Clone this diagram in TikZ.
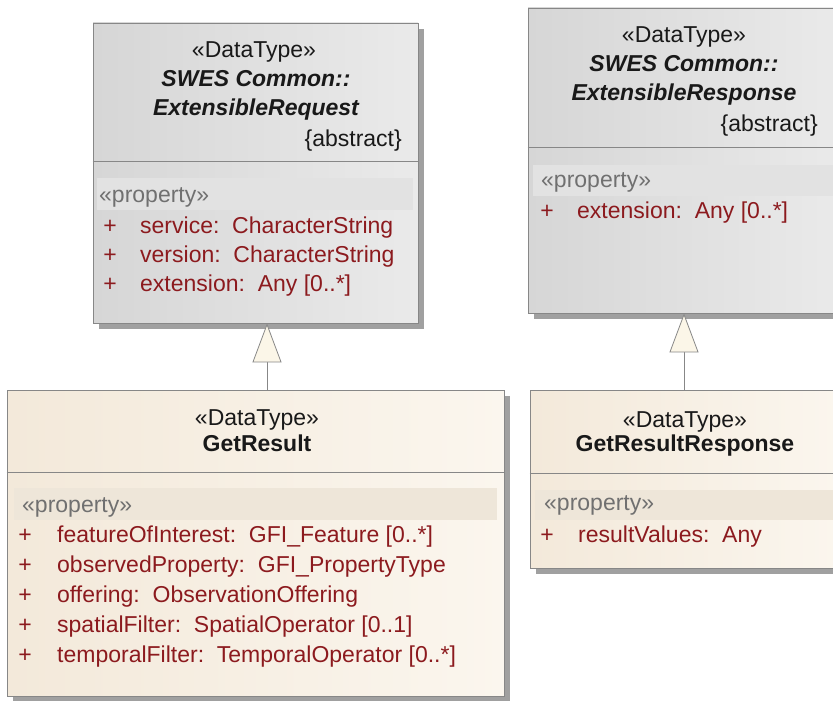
\documentclass[tikz,border=0pt]{standalone}
\usepackage{fontspec}
\setmainfont{Liberation Sans}
\usetikzlibrary{arrows.meta,shadows}

\definecolor{umlred}{RGB}{140,26,30}
\definecolor{stereogray}{RGB}{112,112,112}
\definecolor{boxline}{RGB}{135,135,135}
\definecolor{shadowgray}{RGB}{160,160,160}
\definecolor{grayleft}{RGB}{214,214,214}
\definecolor{grayright}{RGB}{234,234,234}
\definecolor{grayband}{RGB}{226,226,226}
\definecolor{creamleft}{RGB}{243,233,218}
\definecolor{creamright}{RGB}{251,246,238}
\definecolor{creamband}{RGB}{238,230,217}
\definecolor{tricream}{RGB}{251,246,232}

\begin{document}
\begin{tikzpicture}[x=1pt, y=-1pt,
  every node/.style={font=\fontsize{23}{28}\selectfont, inner sep=0pt, text=black!90},
  classbox/.style={draw=boxline, line width=0.8pt,
    drop shadow={shadow xshift=6pt, shadow yshift=-6pt, fill=shadowgray, opacity=1}},
  graybox/.style={classbox, left color=grayleft, right color=grayright},
  creambox/.style={classbox, left color=creamleft, right color=creamright},
  divider/.style={draw=boxline, line width=0.8pt},
  stereo/.style={anchor=base},
  propstereo/.style={anchor=base west, text=stereogray},
  plus/.style={anchor=base, text=umlred},
  attr/.style={anchor=base west, text=umlred},
  genarrow/.style={draw=boxline, line width=0.8pt, -{Triangle[width=29pt, length=39pt, fill=tricream]}}]

\useasboundingbox (0,0) rectangle (833,701);
\clip (0,0) rectangle (833,701);

% the four class boxes
\node[graybox, minimum width=325pt, minimum height=300pt] (extreq) at (255.5,173) {};
\node[graybox, minimum width=312pt, minimum height=305pt] (extres) at (684,160.5) {};
\node[creambox, minimum width=497pt, minimum height=306pt] (getres) at (255.5,543) {};
\node[creambox, minimum width=308pt, minimum height=178pt] (getresp) at (684,479) {};

% compartment lines and property bands
\draw[divider] (extreq.west |- 0,161) -- (extreq.east |- 0,161);
\draw[divider] (extres.west |- 0,147) -- (extres.east |- 0,147);
\draw[divider] (getres.west |- 0,472) -- (getres.east |- 0,472);
\draw[divider] (getresp.west |- 0,473) -- (getresp.east |- 0,473);
\fill[grayband] (97,178) rectangle (413,210);
\fill[grayband] (533,165) rectangle (834,196);
\fill[creamband] (14,488) rectangle (497,520);
\fill[creamband] (535,490) rectangle (836,520);

% ExtensibleRequest
\node[stereo] (extreq-st) at (254,58) {«DataType»};
\node[stereo, font=\fontsize{23}{28}\selectfont\bfseries\itshape] (extreq-n1) at (256,86) {SWES Common::};
\node[stereo, font=\fontsize{23}{28}\selectfont\bfseries\itshape] (extreq-n2) at (256,115) {ExtensibleRequest};
\node[anchor=base east] (extreq-abs) at (402,146) {\{abstract\}};
\node[propstereo] (extreq-pr) at (99,202) {«property»};
\foreach \attr [count=\i] in {{service:\ \ CharacterString}, {version:\ \ CharacterString}, {extension:\ \ Any [0..*]}} {
  \node[plus] (extreq-p\i) at (110,{204+29*\i}) {+};
  \node[attr] (extreq-a\i) at (140,{204+29*\i}) {\attr};
}

% ExtensibleResponse
\node[stereo] (extres-st) at (684,43) {«DataType»};
\node[stereo, font=\fontsize{23}{28}\selectfont\bfseries\itshape] (extres-n1) at (684,71) {SWES Common::};
\node[stereo, font=\fontsize{23}{28}\selectfont\bfseries\itshape] (extres-n2) at (684,100) {ExtensibleResponse};
\node[anchor=base east] (extres-abs) at (818,131) {\{abstract\}};
\node[propstereo] (extres-pr) at (541,187) {«property»};
\node[plus] (extres-p1) at (547,218) {+};
\node[attr] (extres-a1) at (577,218) {extension:\ \ Any [0..*]};

% GetResult
\node[stereo] (getres-st) at (257,425) {«DataType»};
\node[stereo, font=\fontsize{23}{28}\selectfont\bfseries] (getres-n) at (257,451) {GetResult};
\node[propstereo] (getres-pr) at (22,512) {«property»};
\foreach \attr [count=\i] in {{featureOfInterest:\ \ GFI\_Feature [0..*]}, {observedProperty:\ \ GFI\_PropertyType},
    {offering:\ \ ObservationOffering}, {spatialFilter:\ \ SpatialOperator [0..1]}, {temporalFilter:\ \ TemporalOperator [0..*]}} {
  \node[plus] (getres-p\i) at (25,{512+30*\i}) {+};
  \node[attr] (getres-a\i) at (57,{512+30*\i}) {\attr};
}

% GetResultResponse
\node[stereo] (getresp-st) at (685,427) {«DataType»};
\node[stereo, font=\fontsize{23}{28}\selectfont\bfseries] (getresp-n) at (685,451) {GetResultResponse};
\node[propstereo] (getresp-pr) at (544,510) {«property»};
\node[plus] (getresp-p1) at (547,542) {+};
\node[attr] (getresp-a1) at (578,542) {resultValues:\ \ Any};

% generalisations
\draw[genarrow] ([xshift=11.5pt]getres.north) -- ([xshift=11.5pt]extreq.south);
\draw[genarrow] (getresp.north) -- (extres.south);

\end{tikzpicture}
\end{document}
